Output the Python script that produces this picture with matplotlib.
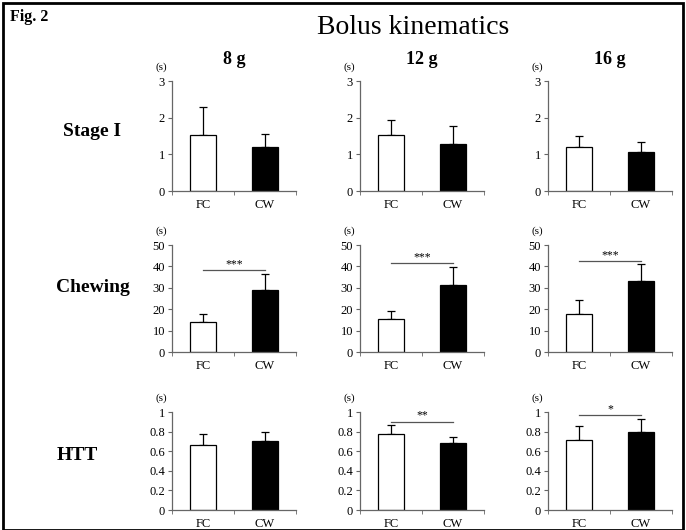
import matplotlib
matplotlib.use("Agg")
import matplotlib.pyplot as plt
from matplotlib.patches import Rectangle

plt.rcParams['font.family'] = ['Liberation Serif', 'DejaVu Serif']

groups = ["FC", "CW"]
sizes = ["8 g", "12 g", "16 g"]
stages = ["Stage I", "Chewing", "HTT"]

# means and upper error (top of error bar) per stage, per bolus size: [FC, CW]
stage1_mean = [[1.52, 1.19], [1.52, 1.28], [1.20, 1.06]]
stage1_top = [[2.30, 1.56], [1.95, 1.77], [1.49, 1.34]]
chew_mean = [[14.2, 29.0], [15.6, 31.1], [17.6, 33.2]]
chew_top = [[17.9, 36.4], [19.2, 39.7], [24.3, 40.9]]
htt_mean = [[0.665, 0.70], [0.777, 0.68], [0.717, 0.80]]
htt_top = [[0.78, 0.80], [0.87, 0.75], [0.86, 0.93]]

# significance marks (label, line height) per stage and size, None = n.s.
stage1_sig = [None, None, None]
chew_sig = [("***", 38.4), ("***", 41.5), ("***", 42.5)]
htt_sig = [None, ("**", 0.90), ("*", 0.965)]

ylims = [3, 50, 1]
yticks = [[0, 1, 2, 3], [0, 10, 20, 30, 40, 50], [0, 0.2, 0.4, 0.6, 0.8, 1]]
yticklabels = [["0", "1", "2", "3"], ["0", "10", "20", "30", "40", "50"],
               ["0", "0.2", "0.4", "0.6", "0.8", "1"]]

means = [stage1_mean, chew_mean, htt_mean]
tops = [stage1_top, chew_top, htt_top]
sigs = [stage1_sig, chew_sig, htt_sig]

fig = plt.figure(figsize=(6.86, 5.30), dpi=100)

col_left = [0.2507, 0.5248, 0.7988]
col_w = 0.1808
row_bottom = [0.6396, 0.3358, 0.0377]
row_h = [0.2075, 0.2019, 0.1849]
axcol = '#666666'

for r in range(3):
    for c in range(3):
        ax = fig.add_axes([col_left[c], row_bottom[r], col_w, row_h[r]])
        m = means[r][c]
        err = [t - v for t, v in zip(tops[r][c], m)]
        ax.bar([0, 1], m, width=0.42, color=['white', 'black'],
               edgecolor='black', linewidth=0.9, zorder=2)
        ax.errorbar([0, 1], m, yerr=[[0, 0], err], fmt='none', ecolor='black',
                    elinewidth=0.9, capsize=2.6, capthick=0.9, zorder=1)
        ax.set_xlim(-0.5, 1.5)
        ax.set_ylim(0, ylims[r])
        ax.set_xticks([0, 1])
        ax.set_xticklabels(groups, fontsize=9)
        ax.set_xticks([-0.5, 0.5, 1.5], minor=True)
        ax.tick_params(axis='x', which='major', length=0, pad=6)
        ax.tick_params(axis='x', which='minor', length=3, direction='out', color=axcol)
        ax.set_yticks(yticks[r])
        ax.set_yticklabels(yticklabels[r], fontsize=9)
        ax.tick_params(axis='y', length=3, direction='out', color=axcol, pad=2)
        for s in ['top', 'right']:
            ax.spines[s].set_visible(False)
        for s in ['left', 'bottom']:
            ax.spines[s].set_color(axcol)
            ax.spines[s].set_linewidth(0.9)
        ax.annotate("(s)", xy=(-0.085, 1.0), xycoords='axes fraction',
                    xytext=(0, 10), textcoords='offset points', fontsize=8,
                    ha='center', va='center')
        sig = sigs[r][c]
        if sig is not None:
            ax.plot([0, 1], [sig[1], sig[1]], color='#555555', lw=0.9)
            ax.text(0.5, sig[1], sig[0], ha='center', va='bottom', fontsize=8.5)
        if r == 0:
            ax.text(0.5, 1.12, sizes[c], transform=ax.transAxes, fontsize=13,
                    fontweight='bold', ha='center', va='bottom')

# row labels
fig.text(92 / 686, 1 - 132 / 530, stages[0], fontsize=14, fontweight='bold',
         ha='center', va='center')
fig.text(93 / 686, 1 - 287 / 530, stages[1], fontsize=14, fontweight='bold',
         ha='center', va='center')
fig.text(77 / 686, 1 - 455 / 530, stages[2], fontsize=14, fontweight='bold',
         ha='center', va='center')

fig.text(413 / 686, 1 - 27 / 530, "Bolus kinematics", fontsize=20,
         ha='center', va='center')
fig.text(10 / 686, 1 - 17 / 530, "Fig. 2", fontsize=11.5, fontweight='bold',
         ha='left', va='center')

fig.patches.append(Rectangle((0.004, 0.0), 0.992, 0.994, transform=fig.transFigure,
                             fill=False, edgecolor='black', linewidth=2.0))

fig.savefig("out.png", dpi=100)
